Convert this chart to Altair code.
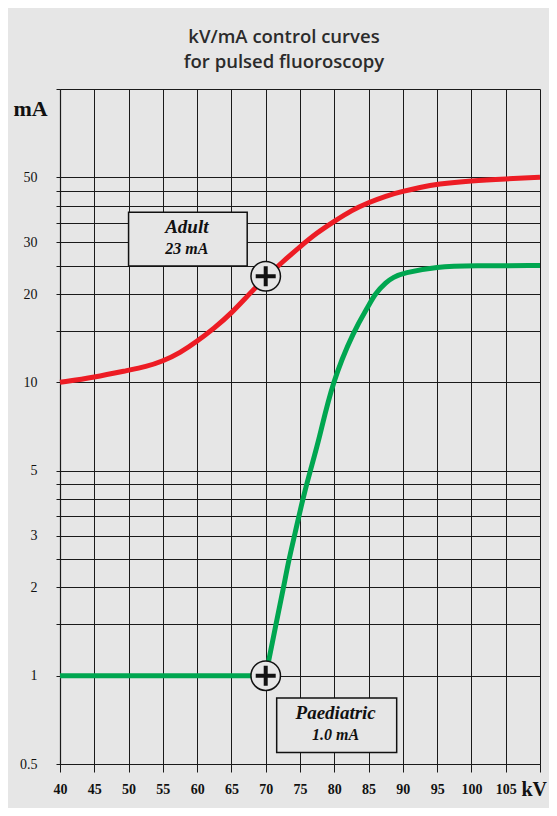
import altair as alt
import pandas as pd

# ---- data ----
kv_adult = [40, 45, 50, 52.5, 55, 57.5, 60, 62.5, 65, 67.5, 70, 72.5, 75, 77.5, 80, 82.5, 85, 87.5, 90, 92.5, 95, 100, 105, 110]
ma_adult = [10.0, 10.4, 11.0, 11.3, 11.8, 12.6, 13.8, 15.3, 17.2, 19.9, 22.8, 25.8, 29.0, 32.4, 35.4, 38.6, 41.0, 43.2, 44.8, 46.2, 47.4, 48.7, 49.4, 50.0]

kv_paed_flat = [40, 70]
ma_paed_flat = [1.0, 1.0]
kv_paed_rise = [70, 71.5, 72.6, 73.4, 74.2, 75.4, 76.5, 77.8, 79.7, 82.9, 85.0, 85.9, 87.6, 88.6, 90, 95, 100, 110]
ma_paed_rise = [1.0, 1.5, 2.0, 2.5, 3.0, 4.0, 5.0, 6.4, 10.0, 15.1, 18.2, 20.0, 22.0, 22.8, 23.6, 24.8, 25.0, 25.0]

marker_kv = [70, 70]
marker_ma = [23, 1.0]

box_kv = [50.0, 71.6]
box_kv2 = [67.3, 89.1]
box_ma = [38.0, 0.84]
box_ma2 = [24.9, 0.547]

label_text = ["Adult", "23 mA", "Paediatric", "1.0 mA"]
label_kv = [58.5, 58.5, 80.2, 80.2]
label_ma = [32.4, 27.4, 0.714, 0.604]
label_size = [19, 16, 19, 16]

x_ticks = list(range(40, 111, 5))
y_grid = [0.5, 1, 1.5, 2, 2.5, 3, 3.5, 4, 4.5, 5, 10, 15, 20, 25, 30, 35, 40, 45, 50, 100]
y_labels = [0.5, 1, 2, 3, 5, 10, 20, 30, 50]

# ---- tables ----
lines = pd.DataFrame(
    [{"kv": k, "ma": m, "series": "Adult", "seg": "a"} for k, m in zip(kv_adult, ma_adult)]
    + [{"kv": k, "ma": m, "series": "Paediatric", "seg": "p1"} for k, m in zip(kv_paed_flat, ma_paed_flat)]
    + [{"kv": k, "ma": m, "series": "Paediatric", "seg": "p2"} for k, m in zip(kv_paed_rise, ma_paed_rise)]
)
markers = pd.DataFrame({"kv": marker_kv, "ma": marker_ma})
boxes = pd.DataFrame({"kv": box_kv, "kv2": box_kv2, "ma": box_ma, "ma2": box_ma2})
labels = pd.DataFrame({"kv": label_kv, "ma": label_ma, "text": label_text, "size": label_size})

GRAY = "#e6e6e6"
SERIF = "Liberation Serif"

xscale = alt.Scale(domain=[40, 110], nice=False, zero=False)
yscale = alt.Scale(type="log", domain=[0.5, 100], nice=False)

label_list = ",".join(str(v) for v in y_labels)

xaxis = alt.Axis(
    values=x_ticks, grid=True, gridColor="#1a1a1a", gridWidth=1, gridOpacity=1,
    domainColor="#1a1a1a", domainWidth=1.2,
    tickColor="#1a1a1a", tickSize=8, tickWidth=1,
    labelFont=SERIF, labelFontWeight="bold", labelFontSize=14, labelColor="#111",
    labelPadding=10, labelFlush=False, labelOverlap=False,
    labelExpr="datum.value == 110 ? '' : datum.label",
    title="kV", titleFont=SERIF, titleFontWeight="bold", titleFontSize=20, titleColor="#111",
    titleX=461, titleY=31, titleAlign="left", titleBaseline="alphabetic", titleAngle=0,
)
yaxis = alt.Axis(
    values=y_grid, grid=True, gridColor="#1a1a1a", gridWidth=1, gridOpacity=1,
    domainColor="#1a1a1a", domainWidth=1.2,
    tickColor="#1a1a1a", tickSize=4, tickWidth=1,
    labelFont=SERIF, labelFontSize=14, labelColor="#111",
    labelPadding=19, labelFlush=False, labelOverlap=False,
    labelExpr="indexof([" + label_list + "], datum.value) >= 0 ? format(datum.value, '~g') : ''",
    title="mA", titleFont=SERIF, titleFontWeight="bold", titleFontSize=22, titleColor="#111",
    titleX=-47, titleY=26, titleAlign="left", titleBaseline="alphabetic", titleAngle=0,
)

X = alt.X("kv:Q", scale=xscale, axis=xaxis)
Y = alt.Y("ma:Q", scale=yscale, axis=yaxis)

curve = alt.Chart(lines).mark_line(strokeWidth=5, interpolate="basis", strokeCap="butt").encode(
    x=X, y=Y,
    color=alt.Color("series:N", scale=alt.Scale(domain=["Adult", "Paediatric"], range=["#ed1c24", "#00a650"]), legend=None),
    detail="seg:N",
)

rects = alt.Chart(boxes).mark_rect(fill=GRAY, stroke="#111", strokeWidth=1.5).encode(
    x=X, x2="kv2:Q", y=Y, y2="ma2:Q"
)

texts = alt.Chart(labels).mark_text(
    font=SERIF, fontWeight="bold", fontStyle="italic", color="#111", baseline="alphabetic", align="center"
).encode(x=X, y=Y, text="text:N", size=alt.Size("size:Q", scale=None, legend=None))

circles = alt.Chart(markers).mark_point(
    shape="circle", filled=True, fill=GRAY, stroke="#111", strokeWidth=1.5, size=870, opacity=1
).encode(x=X, y=Y)

PLUS = "M-0.2,-1H0.2V-0.2H1V0.2H0.2V1H-0.2V0.2H-1V-0.2H-0.2Z"
plus = alt.Chart(markers).mark_point(
    shape=PLUS, filled=True, fill="#111", strokeWidth=0, size=400, opacity=1
).encode(x=X, y=Y)

chart = alt.layer(curve, rects, texts, circles, plus).properties(
    width=480, height=675,
    autosize="none",
    padding={"left": 52, "top": 81, "right": 9, "bottom": 44},
    background=GRAY,
    title=alt.TitleParams(
        text=["kV/mA control curves", "for pulsed fluoroscopy"],
        font="Open Sans", fontWeight=600, fontSize=18.5, color="#2b2b2b",
        anchor="middle", dx=-16, offset=11, lineHeight=25,
    ),
).configure_view(stroke=None)

chart.save("out.html", embed_options={"renderer": "svg", "actions": False})
